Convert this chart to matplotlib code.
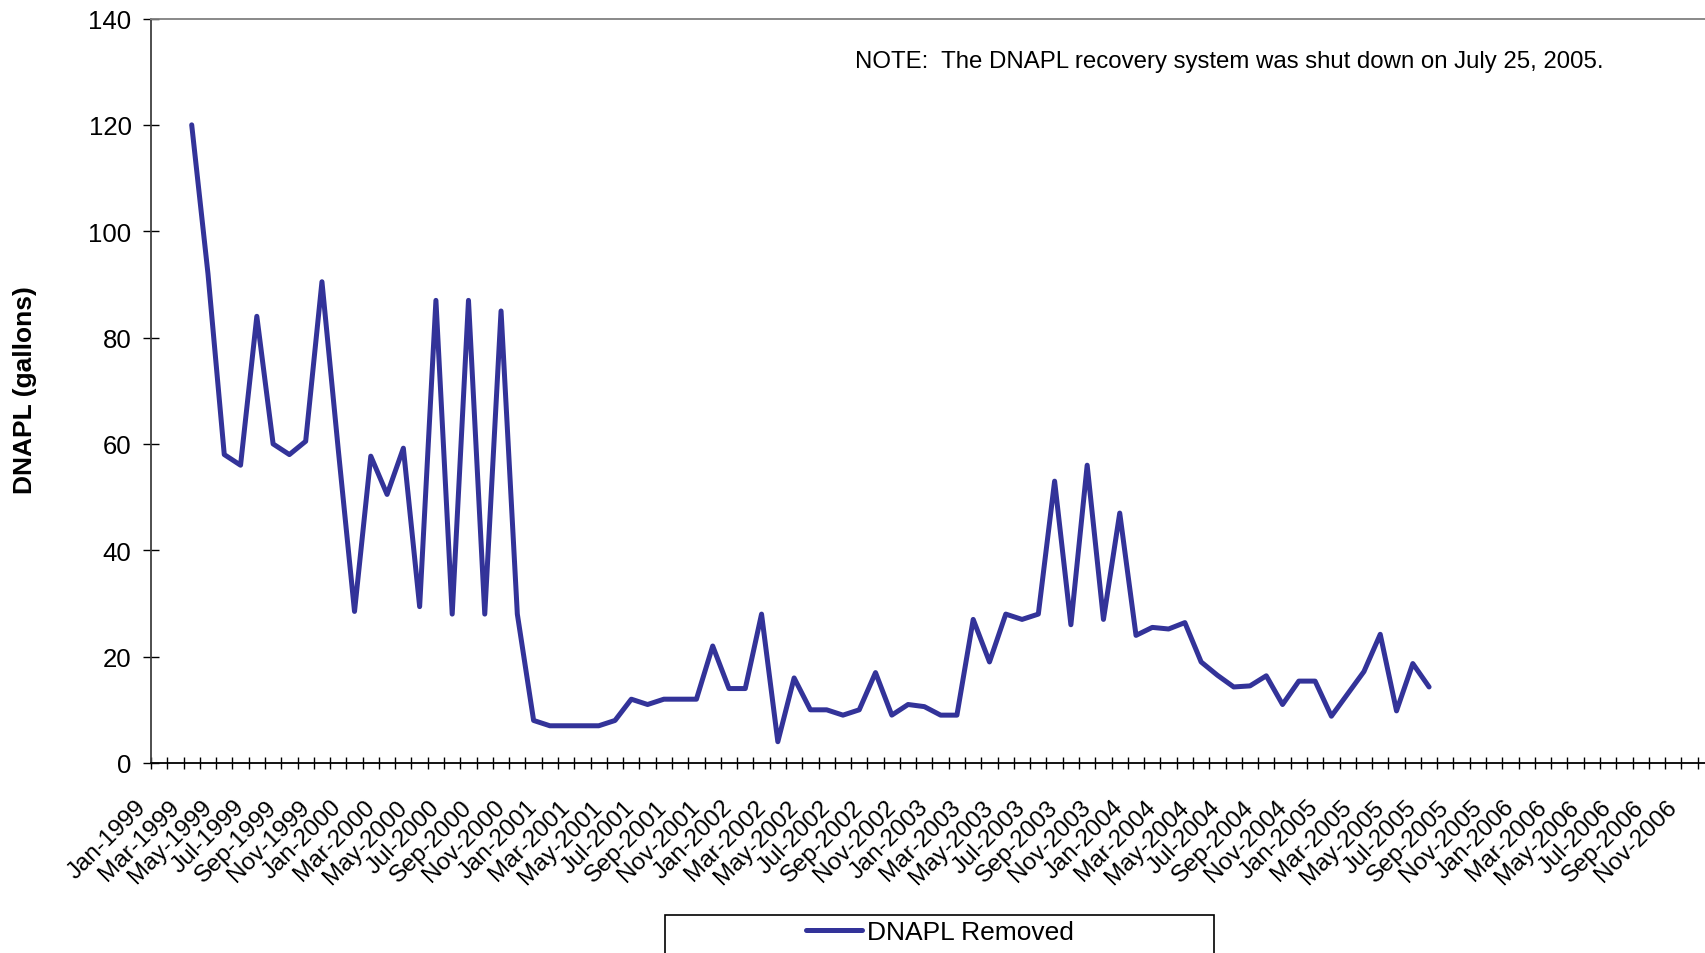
import numpy as np
import matplotlib
matplotlib.use("Agg")
import matplotlib.pyplot as plt
from matplotlib.patches import Rectangle
from matplotlib.ticker import MultipleLocator

plt.rcParams['font.family'] = ['Liberation Sans', 'DejaVu Sans']

# Monthly DNAPL removal (gallons), Mar-1999 through Jul-2005
month_names = ["Jan", "Feb", "Mar", "Apr", "May", "Jun",
               "Jul", "Aug", "Sep", "Oct", "Nov", "Dec"]
years = [1999, 2000, 2001, 2002, 2003, 2004, 2005, 2006]
first_month = 2  # Mar-1999 (index from Jan-1999)
dnapl = [
    120, 92, 58, 56, 84, 60, 58, 60.5, 90.5, 59,           # 1999
    28.5, 57.7, 50.5, 59.2, 29.4, 87, 28, 87, 28, 85, 28, 8,  # 2000
    7, 7, 7, 7, 8, 12, 11, 12, 12, 12, 22, 14,             # 2001
    14, 28, 4, 16, 10, 10, 9, 10, 17, 9, 11, 10.6,         # 2002
    9, 9, 27, 19, 28, 27, 28, 53, 26, 56, 27, 47,          # 2003
    24, 25.5, 25.2, 26.4, 19, 16.5, 14.3, 14.5, 16.4, 11, 15.4, 15.4,  # 2004
    8.8, 13, 17.2, 24.2, 9.8, 18.7, 14.3,                  # 2005
]
tick_labels = [f"{m}-{y}" for y in years for m in month_names][::2]

W, H = 1706, 954
fig = plt.figure(figsize=(W / 100, H / 100), dpi=100)
ax = fig.add_axes([151 / W, 1 - 764 / H, (1714 - 151) / W, (764 - 19.5) / H])

x = np.arange(len(dnapl)) + first_month + 0.5
line, = ax.plot(x, dnapl, color="#333399", lw=3.6, solid_joinstyle="round",
                solid_capstyle="round", label="DNAPL Removed")

n_months = len(years) * 12
ax.set_xlim(0, n_months)
ax.set_ylim(0, 140)
ax.yaxis.set_major_locator(MultipleLocator(20))
ax.set_xticks(np.arange(0, n_months, 2), tick_labels)
ax.set_xticks(np.arange(1, n_months, 2), minor=True)

for lbl in ax.get_xticklabels():
    lbl.set_rotation(45)
    lbl.set_ha("right")
    lbl.set_va("top")

ax.tick_params(axis="x", which="both", direction="inout", length=9, width=1,
               pad=19, labelsize=17.5)
ax.tick_params(axis="y", direction="inout", length=12, width=1, pad=8,
               labelsize=18.5)

ax.spines["left"].set_color("#404040")
ax.spines["left"].set_linewidth(1.3)
ax.spines["bottom"].set_color("black")
ax.spines["bottom"].set_linewidth(1.3)
ax.spines["top"].set_color("#808080")
ax.spines["top"].set_linewidth(1.3)
ax.spines["right"].set_visible(False)

fig.text(25 / W, 1 - 390 / H, "DNAPL (gallons)", rotation=90, ha="center",
         va="center", fontsize=19, fontweight="bold")

fig.text(1229 / W, 1 - 62 / H,
         "NOTE:  The DNAPL recovery system was shut down on July 25, 2005.",
         ha="center", va="center", fontsize=17.3)

fig.patches.append(Rectangle((665 / W, -0.05), (1214 - 665) / W, 0.05 + (954 - 916) / H,
                             transform=fig.transFigure, fill=False,
                             edgecolor="black", lw=1.2))
fig.legend(handles=[line], loc="center", bbox_to_anchor=(940 / W, 1 - 933 / H),
           frameon=False, fontsize=19, handlelength=2.1, handletextpad=0.2)

fig.savefig("out.png", dpi=100)
